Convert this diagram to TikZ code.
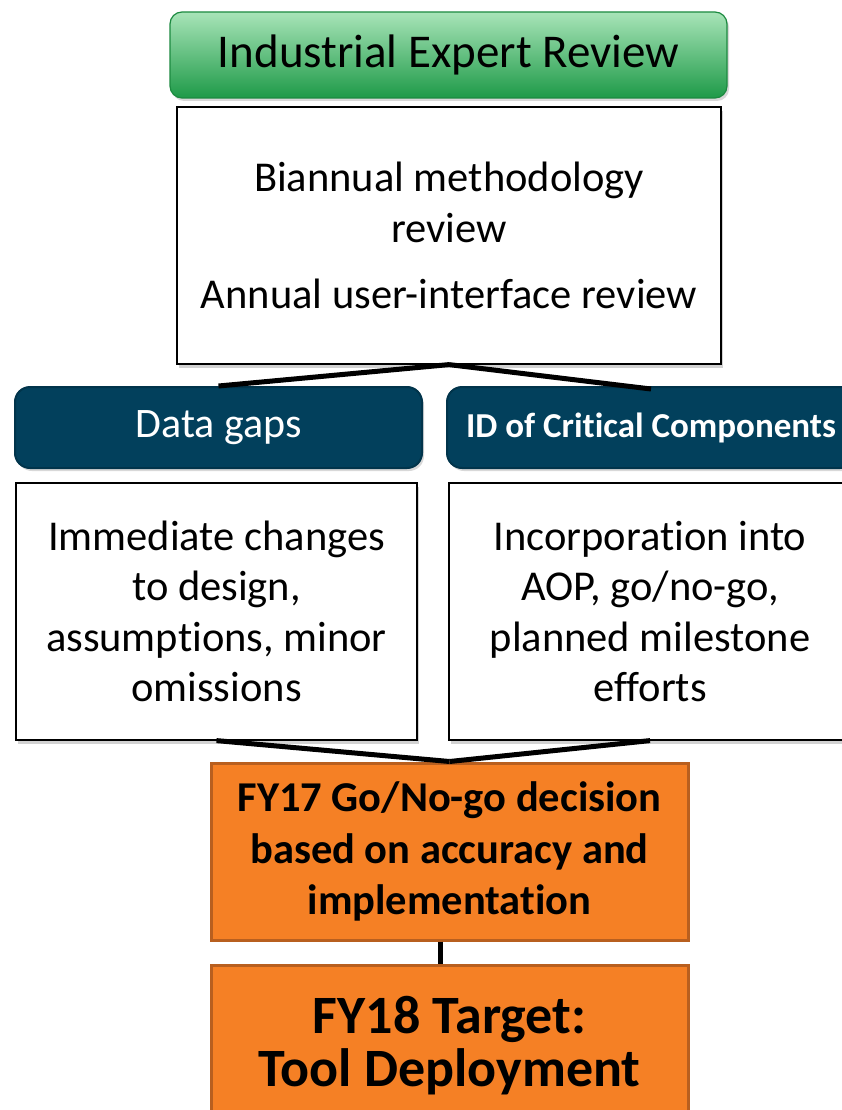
\documentclass[tikz,border=0pt]{standalone}
\usepackage{fontspec}
\setmainfont{Carlito}[Ligatures={NoCommon}]
\usetikzlibrary{shadows}
\definecolor{gtop}{HTML}{A8E4B8}
\definecolor{gbot}{HTML}{1E9A48}
\definecolor{gedge}{HTML}{1C8A40}
\definecolor{navy}{HTML}{02405C}
\definecolor{navyedge}{HTML}{01344B}
\definecolor{orfill}{HTML}{F58025}
\definecolor{oredge}{HTML}{B85F1F}
\tikzset{
  x=1pt, y=-1pt,
  greenbox/.style={draw=gedge, line width=1.2pt, rounded corners=12pt, top color=gtop, bottom color=gbot,
    minimum width=557pt, minimum height=86pt, inner sep=0pt,
    font=\fontsize{47}{52}\selectfont, drop shadow={opacity=0.3, shadow xshift=2pt, shadow yshift=-3pt}},
  whitebox/.style={draw=black, line width=1.2pt, fill=white, inner sep=0pt, align=center,
    font=\fontsize{42.5}{50.5}\selectfont, drop shadow={opacity=0.35, shadow xshift=2pt, shadow yshift=-4pt}},
  navybox/.style={draw=navyedge, line width=2pt, fill=navy, text=white, rounded corners=15pt,
    minimum height=81pt, inner sep=0pt, drop shadow={opacity=0.3, shadow xshift=2pt, shadow yshift=-3pt}},
  orbox/.style={draw=oredge, line width=3pt, fill=orfill, inner sep=0pt, align=center,
    minimum width=477pt, font=\bfseries},
  conn/.style={draw=black, line width=5pt},
}
\begin{document}
\begin{tikzpicture}
\useasboundingbox[fill=white] (0,0) rectangle (842,1110);
% top green header
\node[greenbox] (ier) at (448.5,55) {Industrial Expert Review};
% white box 1
\node[whitebox, minimum width=544pt, minimum height=257pt] (wb1) at (449,235.5)
  {Biannual methodology\\review\\[16pt]Annual user-interface review};
% navy boxes
\node[navybox, minimum width=407pt, font=\fontsize{42}{48}\selectfont] (dg) at (218.5,427.5) {Data gaps};
\node[navybox, minimum width=408pt, font=\fontsize{35}{40}\bfseries] (cc) at (651,427.5) {ID of Critical Components};
% white boxes 2
\node[whitebox, minimum width=401pt, minimum height=257pt] (lb) at (216.5,611.5)
  {Immediate changes\\to design,\\assumptions, minor\\omissions};
\node[whitebox, minimum width=402pt, minimum height=257pt] (rb) at (650,611.5)
  {Incorporation into\\AOP, go/no-go,\\planned milestone\\efforts};
% orange boxes
\node[orbox, minimum height=177pt, font=\fontsize{42.5}{51.5}\bfseries] (ob1) at (449.5,851.5)
  {FY17 Go/No-go decision\\based on accuracy and\\implementation};
\node[orbox, minimum height=162pt, font=\fontsize{54}{53}\bfseries] (ob2) at (449.5,1046)
  {FY18 Target:\\Tool Deployment};
% connectors
\draw[conn] (wb1.south) -- (dg.north);
\draw[conn] (wb1.south) -- ([yshift=-3pt]cc.north);
\draw[conn] (lb.south) -- (ob1.north);
\draw[conn] (rb.south) -- (ob1.north);
\draw[conn] ([xshift=-9.5pt]ob1.south) -- ([xshift=-9.5pt]ob2.north);
\end{tikzpicture}
\end{document}
